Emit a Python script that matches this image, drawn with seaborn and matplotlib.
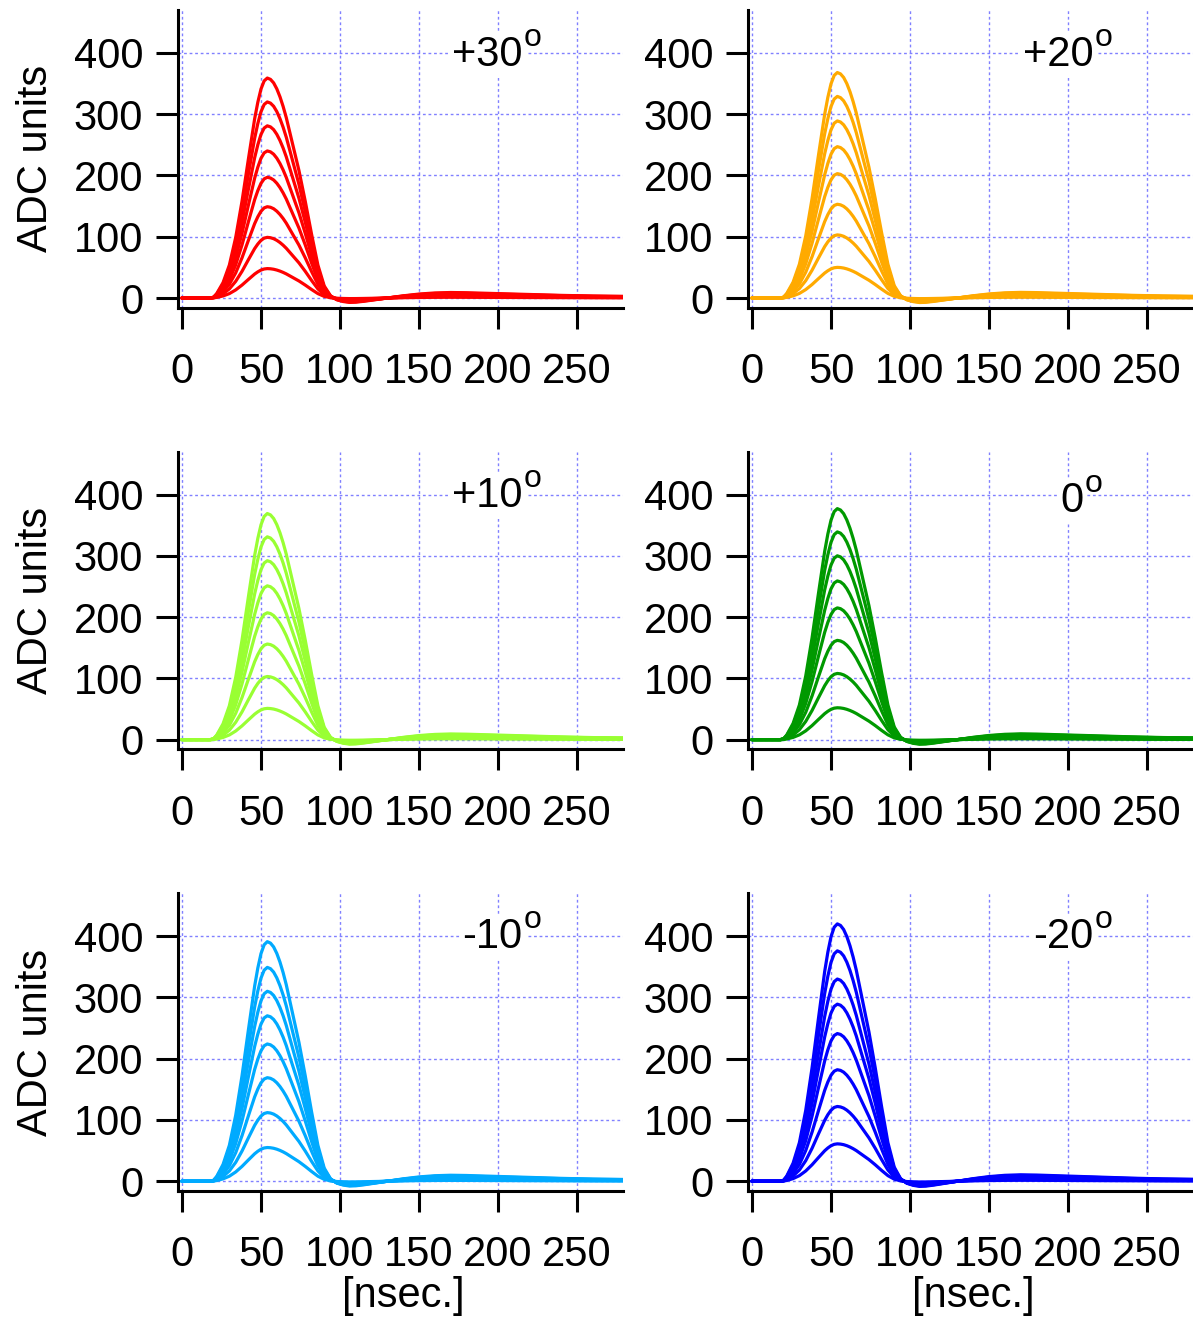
import numpy as np
import pandas as pd
import matplotlib
matplotlib.use("Agg")
import matplotlib.pyplot as plt
import seaborn as sns

# ---------------- data ----------------
panel_labels = ["+30", "+20", "+10", "0", "-10", "-20"]
panel_colors = ["#ff0000", "#ffaa00", "#99ff33", "#009900", "#00aaff", "#0000ff"]

# peak amplitudes (ADC units) of the 8 pulses in each panel
amp_p30 = [359, 320, 281, 240, 197, 149, 99, 48]
amp_p20 = [368, 329, 289, 247, 203, 153, 103, 50]
amp_p10 = [369, 331, 292, 251, 207, 156, 103, 51]
amp_0 = [377, 339, 300, 259, 215, 162, 108, 52]
amp_m10 = [391, 349, 310, 270, 224, 169, 112, 55]
amp_m20 = [420, 376, 330, 289, 241, 182, 122, 61]

# common pulse shape (normalised to the peak)
time_ns = [0, 10, 18, 20, 22, 26, 30, 34, 38, 42, 46, 48, 50, 52, 54, 56, 58,
           60, 62, 64, 66, 70, 74, 78, 82, 86, 90, 94, 98, 102, 106, 110, 115,
           120, 130, 140, 150, 160, 170, 180, 200, 220, 240, 260, 285]
shape = [0.0, 0.0, 0.0, 0.004, 0.02, 0.07, 0.15, 0.275, 0.44, 0.63, 0.815,
         0.89, 0.95, 0.987, 1.0, 0.994, 0.978, 0.951, 0.915, 0.871, 0.82,
         0.70, 0.58, 0.44, 0.29, 0.15, 0.055, 0.01, -0.008, -0.016, -0.02,
         -0.019, -0.015, -0.01, 0.0, 0.01, 0.018, 0.023, 0.025, 0.024, 0.02,
         0.016, 0.012, 0.009, 0.007]

amplitudes = [amp_p30, amp_p20, amp_p10, amp_0, amp_m10, amp_m20]
xticks = [0, 50, 100, 150, 200, 250]
yticks = [0, 100, 200, 300, 400]

# ---------------- style ----------------
sns.set_theme(style="white")
plt.rcParams["font.family"] = ["Liberation Sans", "DejaVu Sans"]
for key in ["text.color", "axes.labelcolor", "xtick.color", "ytick.color"]:
    plt.rcParams[key] = "black"

FS = 30
label_pos_x = [215.5, 216, 215.5, 209.5, 215.5, 216]
label_pos_y = [379, 379, 379, 371, 380, 380]

fig, axes = plt.subplots(3, 2, figsize=(11.93, 13.2), dpi=100)
fig.subplots_adjust(left=0.1492, right=1.0, bottom=0.0977, top=0.9924,
                    wspace=0.281, hspace=0.483)

t_arr = np.array(time_ns, dtype=float)
s_arr = np.array(shape, dtype=float)

for i, ax in enumerate(axes.flat):
    rows = []
    for k, a in enumerate(amplitudes[i]):
        rows.append(pd.DataFrame({"t": t_arr, "adc": a * s_arr, "curve": k}))
    data = pd.concat(rows, ignore_index=True)
    sns.lineplot(data=data, x="t", y="adc", units="curve", estimator=None,
                 color=panel_colors[i], lw=2.3, ax=ax, legend=False, zorder=3)

    ax.set_xlim(-2.5, 279)
    ax.set_ylim(-16, 470)
    ax.set_xticks(xticks)
    ax.set_yticks(yticks)
    ax.grid(True, color="#8080ff", linestyle=(0, (2.0, 2.0)), linewidth=1.0)
    ax.set_axisbelow(True)
    for side in ["top", "right"]:
        ax.spines[side].set_visible(False)
    for side in ["left", "bottom"]:
        ax.spines[side].set_linewidth(2.2)
        ax.spines[side].set_color("black")
    ax.tick_params(axis="y", direction="out", length=16, width=2.2, pad=9,
                   labelsize=FS, colors="black", left=True)
    ax.tick_params(axis="x", direction="out", length=15, width=2.2, pad=17,
                   labelsize=FS, colors="black", bottom=True)

    ax.set_xlabel("")
    ax.set_ylabel("")
    if i % 2 == 0:
        ax.set_ylabel("ADC units", fontsize=FS)
        ax.yaxis.set_label_coords(-0.274, 0.5)
    if i >= 4:
        ax.set_xlabel("[nsec.]", fontsize=FS)
        ax.xaxis.set_label_coords(0.506, -0.285)

    t1 = ax.text(label_pos_x[i], label_pos_y[i], panel_labels[i],
                 ha="right", va="baseline", fontsize=FS, zorder=5,
                 bbox=dict(facecolor="white", edgecolor="none", pad=2))
    ax.annotate("o", xy=(1, 0), xycoords=t1, xytext=(0.8, 21),
                textcoords="offset points", ha="left", va="baseline",
                fontsize=23, zorder=6)

fig.savefig("out.png", dpi=100)
